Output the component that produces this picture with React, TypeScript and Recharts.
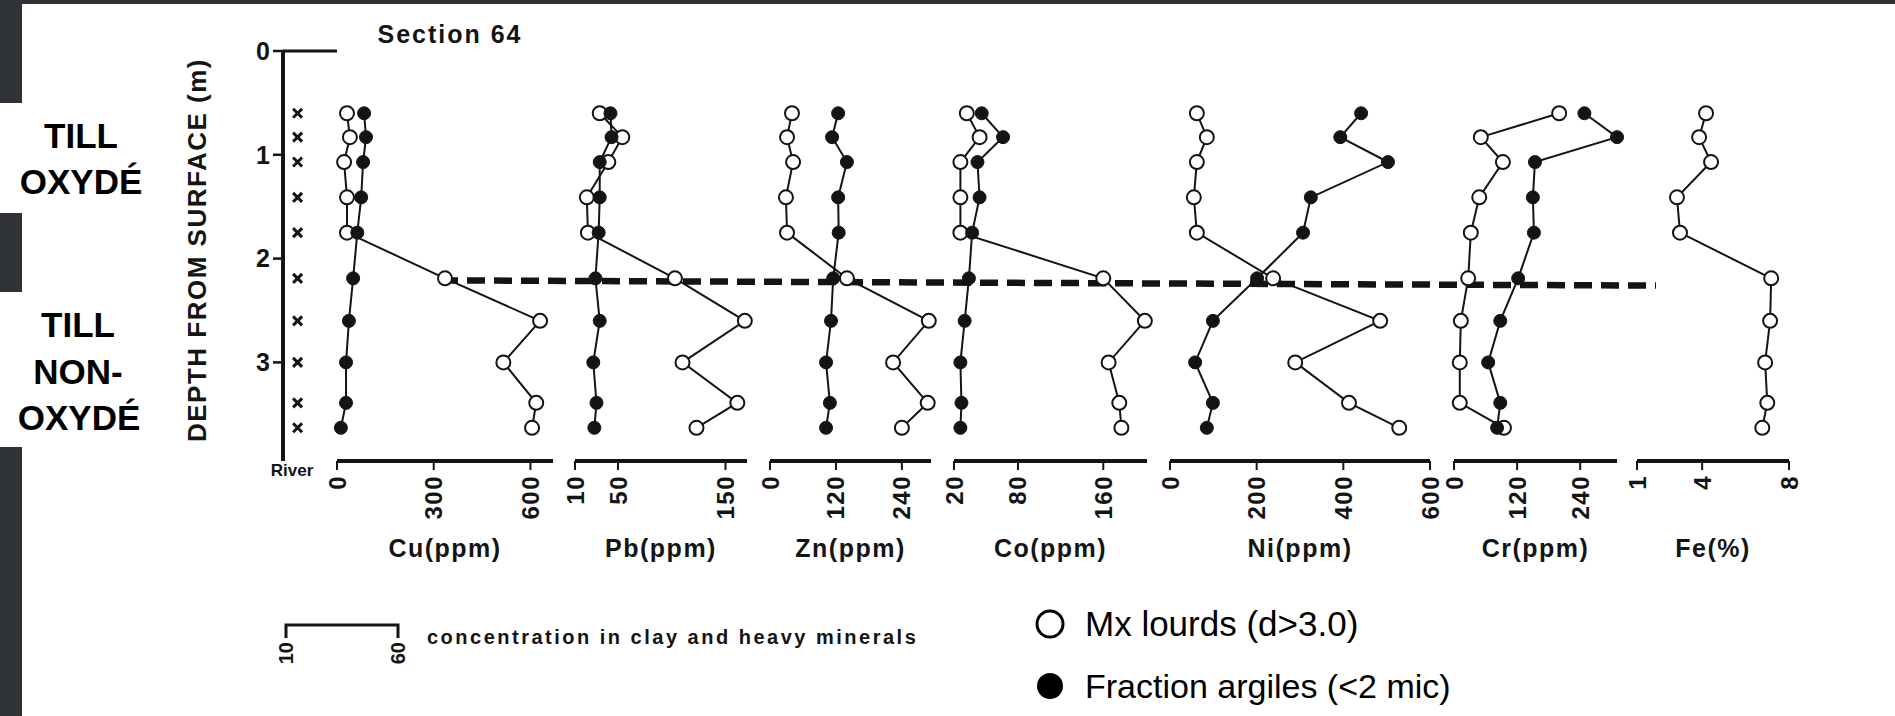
import React from 'react';
import { ScatterChart, Scatter, XAxis, YAxis, ReferenceLine } from 'recharts';

// sample depths (m), shared by every profile
const DEPTHS = [0.6, 0.83, 1.07, 1.41, 1.75, 2.19, 2.6, 3.0, 3.39, 3.63];
const DEPTH_TICKS = [0, 1, 2, 3];
const DEPTH_MAX = 3.95;
// oxidised / non-oxidised till boundary (m) at its left and right end
const BOUNDARY = [2.21, 2.26];

// open = heavy minerals, filled = clay fraction
const CU_HEAVY = [31, 40, 22, 31, 31, 335, 630, 516, 618, 605];
const CU_CLAY = [84, 90, 81, 75, 63, 50, 37, 28, 28, 12];
const PB_HEAVY = [33, 54, 41, 21, 22, 103, 168, 110, 161, 123];
const PB_CLAY = [43, 44, 33, 33, 32, 29, 33, 27, 30, 28];
const ZN_HEAVY = [40, 31, 42, 29, 31, 140, 289, 224, 287, 240];
const ZN_CLAY = [124, 113, 140, 124, 125, 115, 111, 102, 109, 102];
const CO_HEAVY = [32, 44, 26, 26, 26, 160, 199, 165, 175, 177];
const CO_CLAY = [46, 66, 42, 44, 37, 34, 30, 26, 27, 26];
const NI_HEAVY = [62, 85, 62, 55, 62, 238, 485, 289, 413, 529];
const NI_CLAY = [441, 393, 503, 325, 307, 201, 99, 58, 99, 85];
const CR_HEAVY = [200, 51, 93, 48, 32, 27, 13, 11, 11, 95];
const CR_CLAY = [248, 310, 154, 150, 152, 122, 88, 65, 88, 82];
const FE_HEAVY = [4.18, 3.86, 4.41, 2.84, 2.98, 7.18, 7.13, 6.9, 7.0, 6.77];

const CU_TICKS = [0, 300, 600];
const PB_TICKS = [10, 50, 150];
const ZN_TICKS = [0, 120, 240];
const CO_TICKS = [20, 80, 160];
const NI_TICKS = [0, 200, 400, 600];
const CR_TICKS = [0, 120, 240];
const FE_TICKS = [1, 4, 8];

const FONT = '"Liberation Sans", Arial, Helvetica, sans-serif';
const INK = '#141414';
const DARK = '#2f3236';

// page layout
const TOP = 51; // y of depth 0
const PLOT_H = 410;
const XH = 110;
const ML = 16;
const MR = 16;
const MT = 3;

const PANELS = [
  { name: 'Cu(ppm)', heavy: CU_HEAVY, clay: CU_CLAY, ticks: CU_TICKS, domain: [0, 670], left: 337, width: 216 },
  { name: 'Pb(ppm)', heavy: PB_HEAVY, clay: PB_CLAY, ticks: PB_TICKS, domain: [10, 170], left: 575, width: 172 },
  { name: 'Zn(ppm)', heavy: ZN_HEAVY, clay: ZN_CLAY, ticks: ZN_TICKS, domain: [0, 293], left: 770, width: 161 },
  { name: 'Co(ppm)', heavy: CO_HEAVY, clay: CO_CLAY, ticks: CO_TICKS, domain: [20, 201], left: 954, width: 193 },
  { name: 'Ni(ppm)', heavy: NI_HEAVY, clay: NI_CLAY, ticks: NI_TICKS, domain: [0, 600], left: 1170, width: 260 },
  { name: 'Cr(ppm)', heavy: CR_HEAVY, clay: CR_CLAY, ticks: CR_TICKS, domain: [0, 310], left: 1454, width: 163 },
  { name: 'Fe(%)', heavy: FE_HEAVY, clay: null, ticks: FE_TICKS, domain: [1, 8], left: 1637, width: 152 },
];

const toPoints = (vals: number[]) => vals.map((v, i) => ({ v, depth: DEPTHS[i] }));

const openDot = (p: any) => <circle cx={p.cx} cy={p.cy} r={7} fill="#fff" stroke={INK} strokeWidth={2} />;
const fullDot = (p: any) => <circle cx={p.cx} cy={p.cy} r={6.5} fill={INK} stroke={INK} strokeWidth={1} />;
const noDot = () => <g />;
const crossMark = (p: any) => {
  const s = 4.5;
  return (
    <path
      d={`M${p.cx - s},${p.cy - s}L${p.cx + s},${p.cy + s}M${p.cx + s},${p.cy - s}L${p.cx - s},${p.cy + s}`}
      stroke={INK}
      strokeWidth={3}
    />
  );
};

const RotTick = (props: any) => {
  const { x, y, payload } = props;
  return (
    <text
      x={x}
      y={y}
      transform={`rotate(-90, ${x}, ${y})`}
      textAnchor="end"
      dominantBaseline="central"
      fontSize={24}
      fontWeight={700}
      fontFamily={FONT}
      letterSpacing={1.5}
      fill={INK}
    >
      {payload.value}
    </text>
  );
};

const Panel = ({ p }: { p: any }) => (
  <div style={{ position: 'absolute', left: p.left - ML, top: TOP - MT }}>
    <ScatterChart
      width={ML + p.width + MR}
      height={MT + PLOT_H + XH}
      margin={{ top: MT, right: MR, bottom: 0, left: ML }}
    >
      <XAxis
        type="number"
        dataKey="v"
        domain={p.domain}
        ticks={p.ticks}
        interval={0}
        height={XH}
        axisLine={{ stroke: INK, strokeWidth: 4 }}
        tickLine={{ stroke: INK, strokeWidth: 2 }}
        tickSize={9}
        tickMargin={5}
        tick={<RotTick />}
        label={{
          value: p.name,
          position: 'insideBottom',
          offset: 14,
          fill: INK,
          fontSize: 25,
          fontWeight: 700,
          fontFamily: FONT,
          letterSpacing: 1.5,
        }}
      />
      <YAxis
        type="number"
        dataKey="depth"
        domain={[0, DEPTH_MAX]}
        reversed
        width={0}
        tick={false}
        tickLine={false}
        axisLine={{ stroke: INK, strokeWidth: 4 }}
      />
      <Scatter
        data={toPoints(p.heavy)}
        line={{ stroke: INK, strokeWidth: 2 }}
        lineType="joint"
        shape={openDot}
        isAnimationActive={false}
      />
      {p.clay && (
        <Scatter
          data={toPoints(p.clay)}
          line={{ stroke: INK, strokeWidth: 2 }}
          lineType="joint"
          shape={fullDot}
          isAnimationActive={false}
        />
      )}
    </ScatterChart>
  </div>
);

const DepthColumn = () => (
  <div style={{ position: 'absolute', left: 283 - 45 - 4, top: TOP - 20 }}>
    <ScatterChart width={4 + 45 + 54 + 2} height={20 + PLOT_H + 4} margin={{ top: 20, right: 2, bottom: 4, left: 4 }}>
      <XAxis type="number" dataKey="col" domain={[0, 1]} hide />
      <YAxis
        type="number"
        dataKey="depth"
        domain={[0, DEPTH_MAX]}
        reversed
        width={45}
        ticks={DEPTH_TICKS}
        interval={0}
        tickSize={10}
        tickMargin={3}
        axisLine={{ stroke: INK, strokeWidth: 4 }}
        tickLine={{ stroke: INK, strokeWidth: 2.5 }}
        tick={{ fill: INK, fontSize: 25, fontWeight: 700, fontFamily: FONT }}
      />
      <ReferenceLine y={0} stroke={INK} strokeWidth={3} />
      <Scatter data={DEPTHS.map((d) => ({ depth: d, col: 0.27 }))} shape={crossMark} isAnimationActive={false} />
    </ScatterChart>
  </div>
);

// dashed boundary drawn across all panels, from the Cu panel to the Fe panel
const BoundaryLine = () => (
  <div style={{ position: 'absolute', left: 440 - 4, top: TOP - 4 }}>
    <ScatterChart width={1656 - 440 + 8} height={PLOT_H + 8} margin={{ top: 4, right: 4, bottom: 4, left: 4 }}>
      <XAxis type="number" dataKey="x" domain={[0, 1]} hide />
      <YAxis type="number" dataKey="y" domain={[0, DEPTH_MAX]} reversed hide />
      <Scatter
        data={[{ x: 0, y: BOUNDARY[0] }, { x: 1, y: BOUNDARY[1] }]}
        line={{ stroke: INK, strokeWidth: 6.5, strokeDasharray: '18 9' }}
        lineType="joint"
        shape={noDot}
        isAnimationActive={false}
      />
    </ScatterChart>
  </div>
);

const Annotations = () => (
  <svg width={1895} height={716} style={{ position: 'absolute', left: 0, top: 0 }} fontFamily={FONT}>
    <rect x={0} y={0} width={1895} height={4} fill={DARK} />
    <rect x={0} y={0} width={22} height={103} fill={DARK} />
    <rect x={0} y={213} width={22} height={79} fill={DARK} />
    <rect x={0} y={447} width={22} height={269} fill={DARK} />

    <g fontSize={35} fontWeight={700} fill="#000" textAnchor="middle">
      <text x={81} y={148}>TILL</text>
      <text x={81} y={194}>OXYDÉ</text>
      <text x={78} y={337}>TILL</text>
      <text x={78} y={384}>NON-</text>
      <text x={79} y={430}>OXYDÉ</text>
    </g>

    <text x={450} y={43} textAnchor="middle" fontSize={25} fontWeight={700} letterSpacing={2} fill={INK}>
      Section 64
    </text>
    <text
      x={197}
      y={250}
      transform="rotate(-90, 197, 250)"
      textAnchor="middle"
      dominantBaseline="central"
      fontSize={26}
      fontWeight={700}
      letterSpacing={1.5}
      fill={INK}
    >
      DEPTH FROM SURFACE (m)
    </text>
    <text x={292} y={476} textAnchor="middle" fontSize={17} fontWeight={700} fill={INK}>
      River
    </text>

    <path d="M286,638 V625 H398 V638" fill="none" stroke={INK} strokeWidth={3} />
    <text x={286} y={642} transform="rotate(-90, 286, 642)" textAnchor="end" dominantBaseline="central" fontSize={20} fontWeight={700} fill={INK}>
      10
    </text>
    <text x={398} y={642} transform="rotate(-90, 398, 642)" textAnchor="end" dominantBaseline="central" fontSize={20} fontWeight={700} fill={INK}>
      60
    </text>
    <text x={427} y={644} fontSize={20} fontWeight={700} letterSpacing={2.5} fill={INK}>
      concentration in clay and heavy minerals
    </text>

    <circle cx={1050} cy={624} r={13} fill="#fff" stroke="#000" strokeWidth={3} />
    <text x={1085} y={636} fontSize={35} fill="#000">Mx lourds (d&gt;3.0)</text>
    <circle cx={1050} cy={686} r={13} fill="#000" />
    <text x={1085} y={698} fontSize={34} fill="#000">Fraction argiles (&lt;2 mic)</text>
  </svg>
);

export default function App() {
  return (
    <div style={{ position: 'relative', width: 1895, height: 716, background: '#fff', overflow: 'hidden', fontFamily: FONT }}>
      <style>{'body{margin:0}'}</style>
      <Annotations />
      <BoundaryLine />
      <DepthColumn />
      {PANELS.map((p) => (
        <Panel key={p.name} p={p} />
      ))}
    </div>
  );
}
